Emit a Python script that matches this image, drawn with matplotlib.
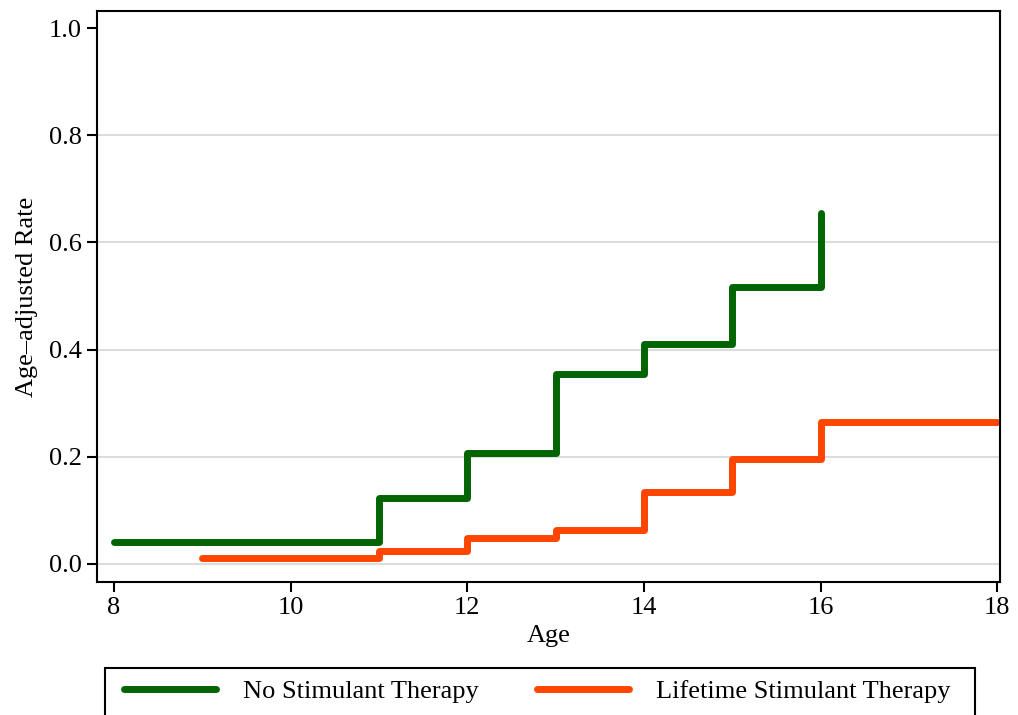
import matplotlib
matplotlib.use('Agg')
import matplotlib.pyplot as plt
from matplotlib.patches import Rectangle

plt.rcParams['font.family'] = ['Liberation Serif', 'DejaVu Serif']

# step data
age_no = [8, 11, 12, 13, 14, 15, 16]
rate_no = [0.040, 0.123, 0.207, 0.355, 0.410, 0.517, 0.655]
age_life = [9, 11, 12, 13, 14, 15, 16, 18]
rate_life = [0.011, 0.024, 0.049, 0.063, 0.134, 0.196, 0.265, 0.265]

x_ticks = [8, 10, 12, 14, 16, 18]
y_ticks = [0.0, 0.2, 0.4, 0.6, 0.8, 1.0]

green = '#006400'
orange = '#ff4500'

fig = plt.figure(figsize=(10.18, 7.15), dpi=100)
ax = fig.add_axes([0.0953, 0.186, 0.887, 0.7986])

# light horizontal grid (no line at the top tick)
for y in y_ticks[:-1]:
    ax.axhline(y, color='#dcdcdc', linewidth=1.5, zorder=0)

ax.plot(age_no, rate_no, drawstyle='steps-post', color=green, linewidth=5,
        solid_capstyle='round', label='No Stimulant Therapy')
ax.plot(age_life, rate_life, drawstyle='steps-post', color=orange, linewidth=5,
        solid_capstyle='round', label='Lifetime Stimulant Therapy')

ax.set_xlim(7.81, 18.03)
ax.set_ylim(-0.034, 1.032)
ax.set_xticks(x_ticks)
ax.set_yticks(y_ticks)
ax.set_yticklabels([f'{v:.1f}' for v in y_ticks])
ax.tick_params(direction='out', length=7, width=1.5, labelsize=19, pad=4)
for s in ax.spines.values():
    s.set_linewidth(1.5)

ax.set_xlabel('Age', fontsize=19, labelpad=4)
ax.set_ylabel('Age\u2013adjusted Rate', fontsize=19, labelpad=8)

# legend box runs off the bottom of the figure, as in the original export
top = 1 - 668 / 715
fig.patches.append(Rectangle((105 / 1018, -0.05), 870 / 1018, top + 0.05,
                             transform=fig.transFigure, fill=False,
                             edgecolor='black', linewidth=1.5))

handles, labels = ax.get_legend_handles_labels()
leg = fig.legend(handles, labels, loc='upper left', ncol=2,
                 bbox_to_anchor=(112 / 1018, top - 0.01, 850 / 1018, 0.01),
                 mode='expand', frameon=False, fontsize=19,
                 handlelength=3.5, handletextpad=1.0, borderpad=0.45,
                 borderaxespad=0)

plt.savefig('out.png', dpi=100)
